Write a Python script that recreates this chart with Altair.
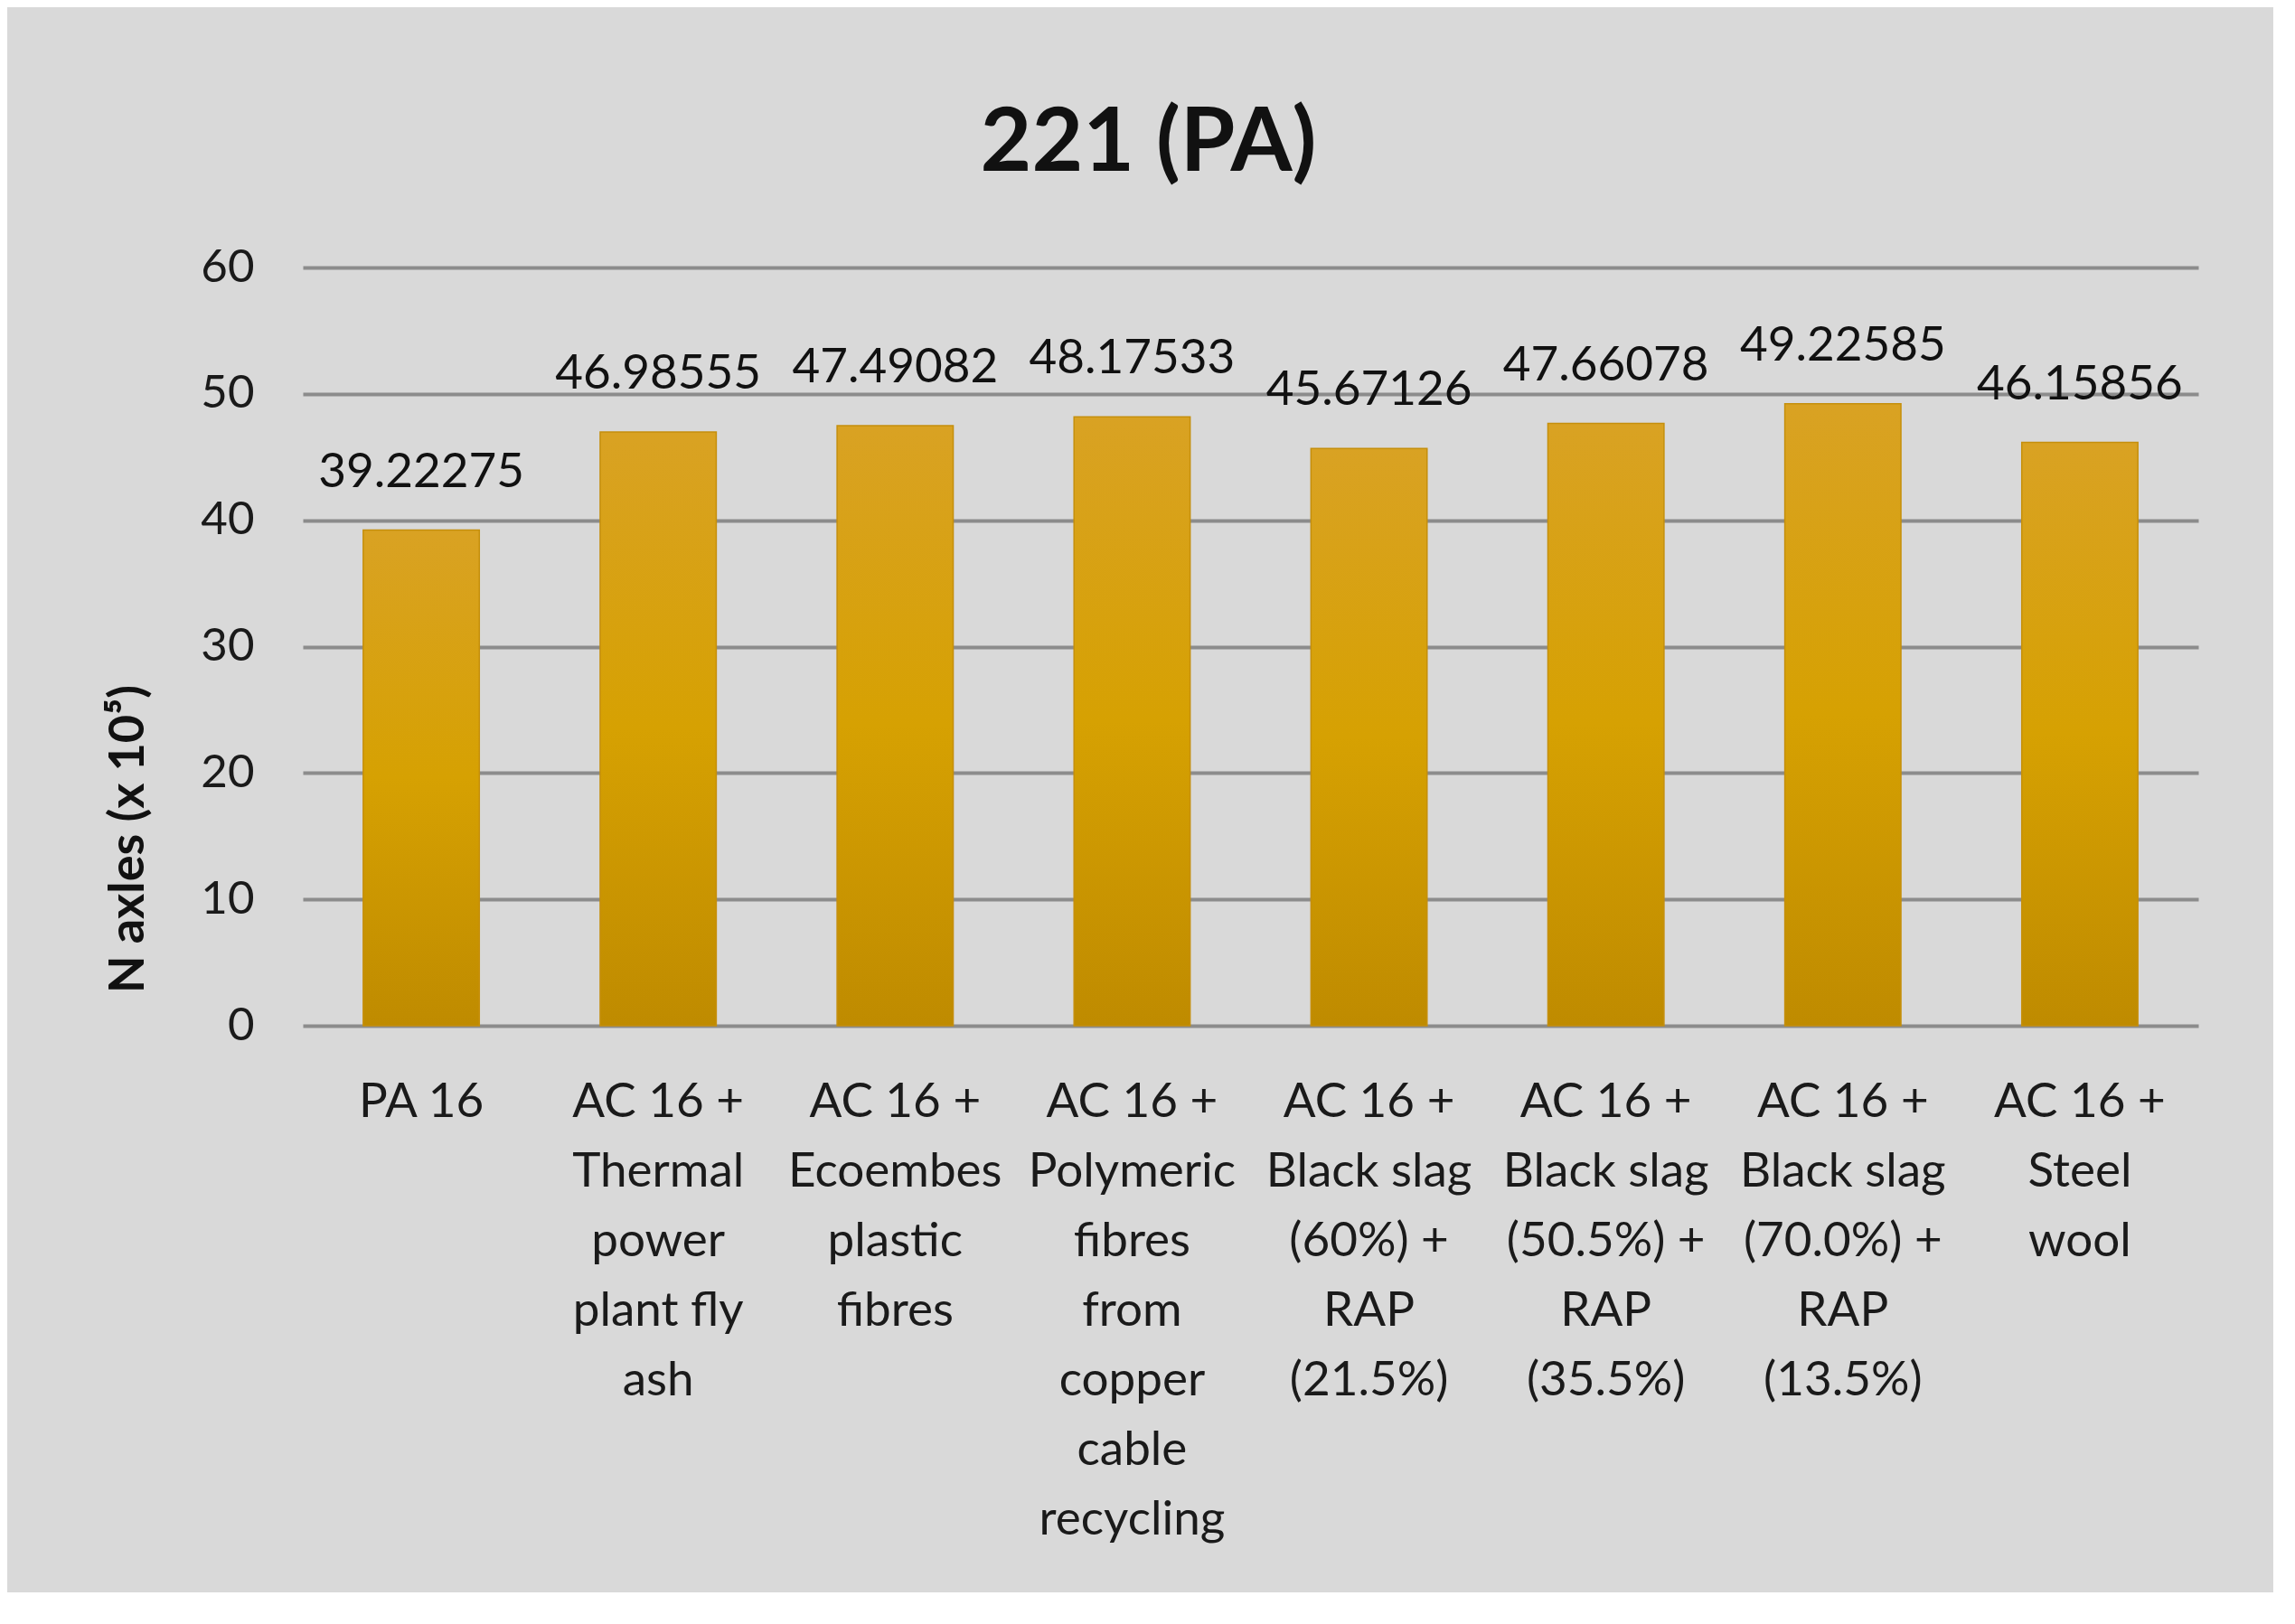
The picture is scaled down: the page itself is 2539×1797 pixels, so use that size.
import altair as alt
import pandas as pd

categories = [
    "PA 16",
    "AC 16 +|Thermal|power|plant fly|ash",
    "AC 16 +|Ecoembes|plastic|fibres",
    "AC 16 +|Polymeric|fibres|from|copper|cable|recycling",
    "AC 16 +|Black slag|(60%) +|RAP|(21.5%)",
    "AC 16 +|Black slag|(50.5%) +|RAP|(35.5%)",
    "AC 16 +|Black slag|(70.0%) +|RAP|(13.5%)",
    "AC 16 +|Steel|wool",
]
values = [39.22275, 46.98555, 47.49082, 48.17533, 45.67126, 47.66078, 49.22585, 46.15856]
y_ticks = [0, 10, 20, 30, 40, 50, 60]

df = pd.DataFrame({"cat": categories, "val": values})

FONT = "Lato"
W, H = 2097, 839

x_enc = alt.X(
    "cat:N",
    sort=categories,
    scale=alt.Scale(paddingInner=0.51, paddingOuter=0.255),
    axis=alt.Axis(
        title=None,
        labelExpr="split(datum.label, '|')",
        labelAngle=0,
        labelFont=FONT,
        labelFontSize=53,
        labelColor="#1a1a1a",
        labelLineHeight=77,
        labelBaseline="alphabetic",
        labelPadding=100,
        labelLimit=0,
        labelOverlap=False,
        labelBound=False,
        ticks=False,
        tickSize=0,
        domain=False,
        grid=False,
    ),
)

y_enc = alt.Y(
    "val:Q",
    scale=alt.Scale(domain=[0, 60], nice=False),
    axis=alt.Axis(
        title="N axles (x 10⁵)",
        values=y_ticks,
        labelFont=FONT,
        labelFontSize=51,
        labelColor="#1a1a1a",
        labelPadding=54,
        ticks=False,
        tickSize=0,
        domain=False,
        grid=True,
        gridColor="#8c8c8c",
        gridWidth=4,
        titleFont=FONT,
        titleFontSize=54,
        titleFontWeight="bold",
        titleColor="#111111",
        titleX=-193,
        titleY=632,
        titleAngle=270,
        titleAlign="center",
        titleBaseline="middle",
    ),
)

bars = alt.Chart(df).mark_bar(
    color={
        "gradient": "linear",
        "x1": 0, "y1": 0, "x2": 0, "y2": 1,
        "stops": [
            {"offset": 0, "color": "#d9a223"},
            {"offset": 0.5, "color": "#d6a102"},
            {"offset": 1, "color": "#bf8b00"},
        ],
    },
    stroke="#c58f0c",
    strokeWidth=1.5,
).encode(x=x_enc, y=y_enc)

labels = alt.Chart(df).mark_text(
    font=FONT,
    fontSize=53,
    color="#111111",
    baseline="alphabetic",
    align="center",
    dy=-48,
).encode(
    x=alt.X("cat:N", sort=categories),
    y=alt.Y("val:Q"),
    text=alt.Text("val:Q", format=".5f"),
)

chart = (
    alt.layer(bars, labels)
    .properties(
        width=W,
        height=H,
        title=alt.TitleParams(
            text="221 (PA)",
            font=FONT,
            fontSize=98,
            fontWeight="bold",
            color="#111111",
            anchor="middle",
            frame="group",
            dx=-113,
            dy=97,
            baseline="alphabetic",
            offset=80,
        ),
        autosize=alt.AutoSizeParams(type="none"),
        padding={"left": 327, "top": 288, "right": 83, "bottom": 627},
        background="#d9d9d9",
    )
    .configure_view(stroke=None)
)

chart.save("out.html", embed_options={"renderer": "svg", "actions": False})
